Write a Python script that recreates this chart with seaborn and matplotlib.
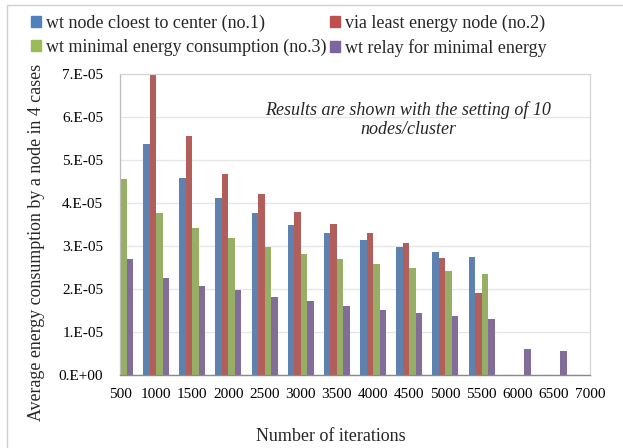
import numpy as np
import pandas as pd
import matplotlib
matplotlib.use("Agg")
import matplotlib.pyplot as plt
import matplotlib.patches as mpatches
from matplotlib.ticker import FuncFormatter, MultipleLocator
import seaborn as sns

iterations = ["500", "1000", "1500", "2000", "2500", "3000", "3500",
              "4000", "4500", "5000", "5500", "6000", "6500", "7000"]
series_names = ["wt node cloest to center (no.1)",
                "via least energy node (no.2)",
                "wt minimal energy consumption (no.3)",
                "wt relay for minimal energy"]
nan = np.nan
no1 = [nan, 5.37e-5, 4.57e-5, 4.11e-5, 3.76e-5, 3.49e-5, 3.30e-5,
       3.13e-5, 2.98e-5, 2.86e-5, 2.74e-5, nan, nan, nan]
no2 = [nan, 7.00e-5, 5.56e-5, 4.67e-5, 4.22e-5, 3.80e-5, 3.51e-5,
       3.30e-5, 3.06e-5, 2.71e-5, 1.90e-5, nan, nan, nan]
no3 = [4.55e-5, 3.77e-5, 3.41e-5, 3.19e-5, 2.98e-5, 2.81e-5, 2.69e-5,
       2.59e-5, 2.50e-5, 2.43e-5, 2.35e-5, nan, nan, nan]
relay = [2.70e-5, 2.26e-5, 2.06e-5, 1.97e-5, 1.82e-5, 1.73e-5, 1.61e-5,
         1.51e-5, 1.44e-5, 1.38e-5, 1.31e-5, 0.61e-5, 0.56e-5, nan]
colors = ["#4F81BD", "#C0504D", "#9BBB59", "#8064A2"]

rows = []
for name, vals in zip(series_names, [no1, no2, no3, relay]):
    for it, v in zip(iterations, vals):
        rows.append({"iter": it, "series": name, "value": v})
df = pd.DataFrame(rows)

sns.set_theme(style="white")
plt.rcParams["font.family"] = ["Liberation Serif", "DejaVu Serif"]

W, H = 623, 448
fig = plt.figure(figsize=(W / 100, H / 100), dpi=100)
ax = fig.add_axes([120 / W, 1 - 375 / H, 470 / W, 301 / H])

sns.barplot(data=df, x="iter", y="value", hue="series", order=iterations,
            hue_order=series_names, palette=colors, width=0.72,
            linewidth=0, errorbar=None, legend=False, ax=ax)

ax.set_xlim(0, len(iterations) - 1)
ax.set_ylim(0, 7e-5)
ax.yaxis.set_major_locator(MultipleLocator(1e-5))

def fmt(v, pos):
    if abs(v) < 1e-12:
        return "0.E+00"
    return f"{v / 1e-5:.0f}.E-05"

ax.yaxis.set_major_formatter(FuncFormatter(fmt))
ax.grid(axis="y", color="#e6e6e6", linewidth=0.9)
ax.set_axisbelow(True)
ax.tick_params(axis="both", labelsize=11, length=0, colors="black")
ax.tick_params(axis="y", pad=12)
ax.tick_params(axis="x", pad=9)
ax.set_xlabel("")
ax.set_ylabel("")
for s in ["top", "right"]:
    ax.spines[s].set_color("#d4d4d4")
    ax.spines[s].set_linewidth(0.9)
ax.spines["left"].set_color("#bcbcbc")
ax.spines["left"].set_linewidth(0.9)
ax.spines["bottom"].set_color("#8a8a8a")
ax.spines["bottom"].set_linewidth(1.0)

fig.text(331 / W, 1 - 436 / H, "Number of iterations", ha="center", va="center", fontsize=13)
fig.text(37 / W, 1 - 242 / H, "Average energy consumption by a node in 4 cases",
         ha="center", va="center", rotation=90, fontsize=12.9)

ax.text(408 / W, 1 - 110 / H, "Results are shown with the setting of 10",
        transform=fig.transFigure, ha="center", va="center", fontsize=13, style="italic")
ax.text(408 / W, 1 - 130 / H, "nodes/cluster",
        transform=fig.transFigure, ha="center", va="center", fontsize=13, style="italic")

handles = [mpatches.Patch(color=c, label=n) for c, n in zip(colors, series_names)]
order = [0, 2, 1, 3]
fig.legend([handles[i] for i in order], [series_names[i] for i in order],
           ncol=2, loc="upper left", bbox_to_anchor=(22 / W, 1 - 6 / H),
           frameon=False, fontsize=13, handlelength=0.55, handleheight=0.55,
           handletextpad=0.3, columnspacing=0.15, labelspacing=0.35, borderpad=0)

fig.patches.append(mpatches.Rectangle((7 / W, -0.1), 1.2, 1 - 5 / H + 0.1,
                                      transform=fig.transFigure, fill=False,
                                      edgecolor="#cfcfcf", linewidth=1.0))

fig.savefig("out.png", dpi=100)
